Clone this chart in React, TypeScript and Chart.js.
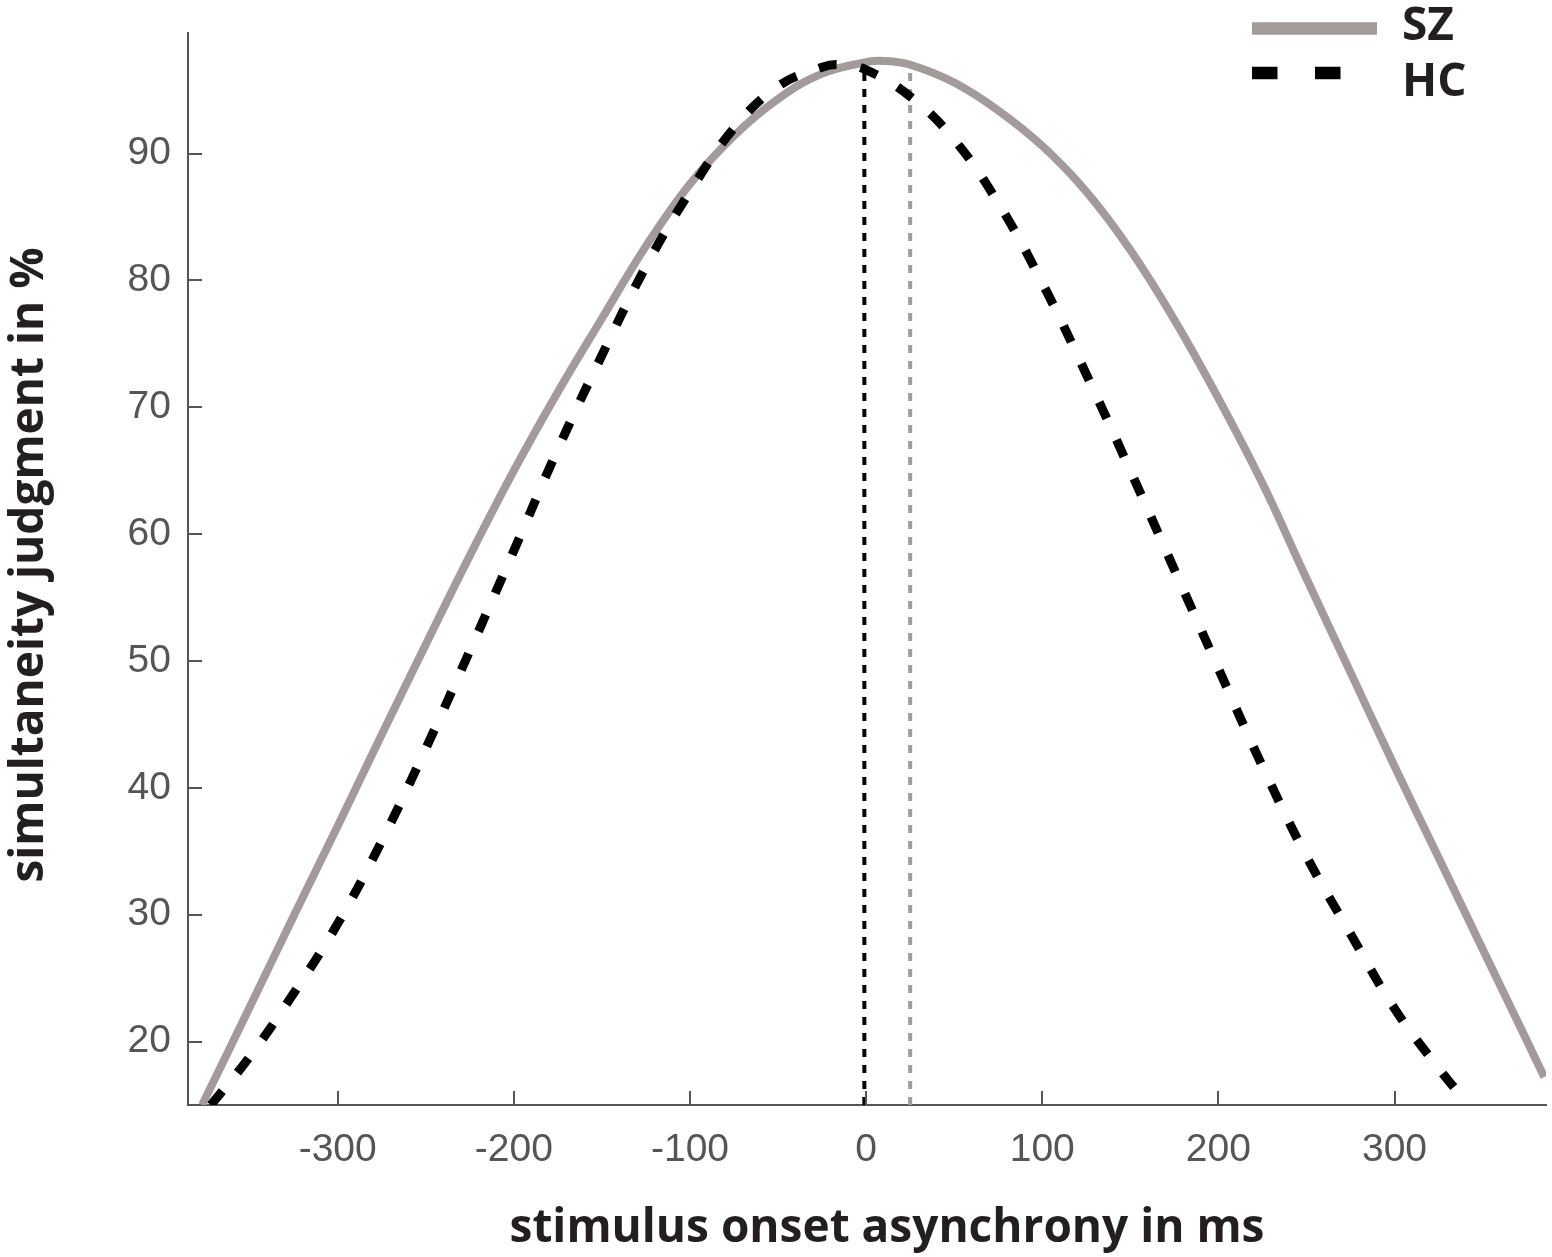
import React, { useEffect, useRef } from "react";
import { Chart, registerables } from "chart.js";

Chart.register(...registerables);

// ---- data ----
const SOA_SZ = [-377, -350, -325, -300, -275, -250, -225, -200, -175, -150, -125, -100, -75, -50, -25, 0, 10, 25, 50, 75, 100, 125, 150, 175, 200, 225, 250, 275, 300, 325, 350, 375, 385];
const SJ_SZ = [15.0, 22.7, 29.9, 37.0, 44.2, 51.3, 58.3, 65.0, 71.2, 77.0, 82.7, 87.6, 91.4, 94.3, 96.3, 97.2, 97.3, 97.0, 95.6, 93.4, 90.6, 87.0, 82.4, 76.9, 70.7, 64.0, 56.5, 49.1, 41.7, 34.5, 27.3, 20.1, 17.2];

const SOA_HC = [-372, -350, -325, -300, -275, -250, -225, -200, -175, -150, -125, -100, -75, -50, -25, -15, 0, 25, 50, 75, 100, 125, 150, 175, 200, 225, 250, 275, 300, 325, 342];
const SJ_HC = [15.0, 18.8, 23.8, 29.3, 35.8, 43.1, 50.8, 58.7, 66.7, 74.1, 81.1, 87.0, 92.0, 95.3, 96.8, 97.0, 96.6, 94.5, 91.1, 86.1, 79.8, 72.6, 65.0, 57.2, 49.4, 41.7, 34.6, 28.5, 22.6, 17.9, 15.0];

// points of subjective simultaneity (vertical dotted markers)
const PSS_HC = [-1, -1];
const PSS_HC_Y = [15, 96.9];
const PSS_SZ = [25, 25];
const PSS_SZ_Y = [15, 96.8];

const X_TICKS = [-300, -200, -100, 0, 100, 200, 300];
const Y_TICKS = [20, 30, 40, 50, 60, 70, 80, 90];
const X_RANGE = [-385, 386];
const Y_RANGE = [15, 99.5];

const SERIES_LABELS = ["SZ", "HC"];
const X_TITLE = "stimulus onset asynchrony in ms";
const Y_TITLE = "simultaneity judgment in %";

// ---- styles ----
const SZ_COLOR = "#a29a9b";
const HC_COLOR = "#000000";
const AXIS_COLOR = "#555555";
const TEXT_DARK = "#231f20";
const TITLE_FONT = 'bold 46px "Open Sans"';

const zip = (xs: number[], ys: number[]) => xs.map((x, i) => ({ x, y: ys[i] }));

const overlayPlugin = {
  id: "overlay",
  afterDraw(chart: any) {
    const { ctx, chartArea, scales } = chart;
    const xs = scales.x;
    const ys = scales.y;
    ctx.save();
    // inward tick marks
    ctx.strokeStyle = AXIS_COLOR;
    ctx.lineWidth = 2;
    ctx.setLineDash([]);
    for (const t of xs.ticks) {
      const px = Math.round(xs.getPixelForValue(t.value));
      ctx.beginPath();
      ctx.moveTo(px, chartArea.bottom);
      ctx.lineTo(px, chartArea.bottom - 14);
      ctx.stroke();
    }
    for (const t of ys.ticks) {
      const py = Math.round(ys.getPixelForValue(t.value));
      ctx.beginPath();
      ctx.moveTo(chartArea.left, py);
      ctx.lineTo(chartArea.left + 14, py);
      ctx.stroke();
    }

    // axis titles
    ctx.fillStyle = TEXT_DARK;
    ctx.font = TITLE_FONT;
    ctx.textAlign = "center";
    ctx.textBaseline = "alphabetic";
    ctx.fillText(X_TITLE, (chartArea.left + chartArea.right) / 2 + 20, chartArea.bottom + 137);
    ctx.save();
    ctx.translate(42.5, (chartArea.top + chartArea.bottom) / 2 - 4);
    ctx.rotate(-Math.PI / 2);
    ctx.fillText(Y_TITLE, 0, 0);
    ctx.restore();

    // legend (top right), in the order of SERIES_LABELS
    const legendItems = SERIES_LABELS.map((lab) =>
      chart.data.datasets.find((d: any) => d.inLegend && d.label === lab)
    ).filter(Boolean);
    const lx0 = 1252;
    const lx1 = 1377;
    legendItems.forEach((d: any, i: number) => {
      const y = 28.5 + i * 44.5;
      const dashed = d.borderDash && d.borderDash.length;
      ctx.save();
      ctx.strokeStyle = d.borderColor;
      ctx.lineWidth = 12.5;
      ctx.lineCap = "butt";
      ctx.setLineDash(dashed ? [25.5, 37.5] : []);
      ctx.beginPath();
      ctx.moveTo(lx0, y);
      ctx.lineTo(dashed ? lx0 + 89 : lx1, y);
      ctx.stroke();
      ctx.restore();
      ctx.fillStyle = TEXT_DARK;
      ctx.font = TITLE_FONT;
      ctx.textAlign = "left";
      ctx.textBaseline = "alphabetic";
      ctx.fillText(d.label, 1402, y + 11.5 + (i === 0 ? 0 : 11));
    });
    ctx.restore();
  },
};

export default function App() {
  const canvasRef = useRef<HTMLCanvasElement | null>(null);

  useEffect(() => {
    const canvas = canvasRef.current;
    if (!canvas) return;
    const chart = new Chart(canvas, {
      type: "line",
      data: {
        datasets: [
          {
            label: SERIES_LABELS[1],
            data: zip(SOA_HC, SJ_HC),
            borderColor: HC_COLOR,
            borderWidth: 9,
            borderDash: [18, 24],
            borderCapStyle: "butt",
            pointRadius: 0,
            tension: 0.4,
            fill: false,
            inLegend: true,
            order: 1,
          } as any,
          {
            label: SERIES_LABELS[0],
            data: zip(SOA_SZ, SJ_SZ),
            borderColor: SZ_COLOR,
            borderWidth: 8,
            pointRadius: 0,
            tension: 0.4,
            fill: false,
            inLegend: true,
            order: 2,
          } as any,
          {
            label: "PSS HC",
            data: zip(PSS_HC, PSS_HC_Y),
            borderColor: "#000000",
            borderWidth: 4,
            borderDash: [8, 8],
            pointRadius: 0,
            fill: false,
            order: 3,
          } as any,
          {
            label: "PSS SZ",
            data: zip(PSS_SZ, PSS_SZ_Y),
            borderColor: "#9c9c9c",
            borderWidth: 4,
            borderDash: [8, 8],
            pointRadius: 0,
            fill: false,
            order: 4,
          } as any,
        ],
      },
      options: {
        animation: false,
        responsive: false,
        devicePixelRatio: 1,
        layout: { padding: { top: 33, right: 6, left: 0, bottom: 0 } },
        plugins: {
          legend: { display: false },
          tooltip: { enabled: false },
          title: { display: false },
        },
        scales: {
          x: {
            type: "linear",
            min: X_RANGE[0],
            max: X_RANGE[1],
            afterBuildTicks: (s: any) => {
              s.ticks = X_TICKS.map((v) => ({ value: v }));
            },
            afterFit: (s: any) => {
              s.height = 152;
              s.paddingLeft = 0;
              s.paddingRight = 0;
            },
            grid: { display: false, drawTicks: false },
            border: { display: true, color: AXIS_COLOR, width: 2 },
            ticks: {
              color: AXIS_COLOR,
              font: { family: '"Liberation Sans", Arial, sans-serif', size: 39 },
              padding: 22,
              maxRotation: 0,
              autoSkip: false,
              callback: (v: any) => String(v),
            },
          },
          y: {
            type: "linear",
            min: Y_RANGE[0],
            max: Y_RANGE[1],
            afterBuildTicks: (s: any) => {
              s.ticks = Y_TICKS.map((v) => ({ value: v }));
            },
            afterFit: (s: any) => {
              s.width = 188;
              s.paddingTop = 0;
              s.paddingBottom = 0;
            },
            grid: { display: false, drawTicks: false },
            border: { display: true, color: AXIS_COLOR, width: 2 },
            ticks: {
              color: AXIS_COLOR,
              font: { family: '"Liberation Sans", Arial, sans-serif', size: 39 },
              padding: 17,
              autoSkip: false,
              callback: (v: any) => String(v),
            },
          },
        },
      } as any,
      plugins: [overlayPlugin],
    });
    return () => chart.destroy();
  }, []);

  return (
    <div style={{ position: "absolute", left: 0, top: 0, width: 1552, height: 1257, background: "#ffffff" }}>
      <canvas ref={canvasRef} width={1552} height={1257} style={{ width: 1552, height: 1257, display: "block" }} />
    </div>
  );
}
